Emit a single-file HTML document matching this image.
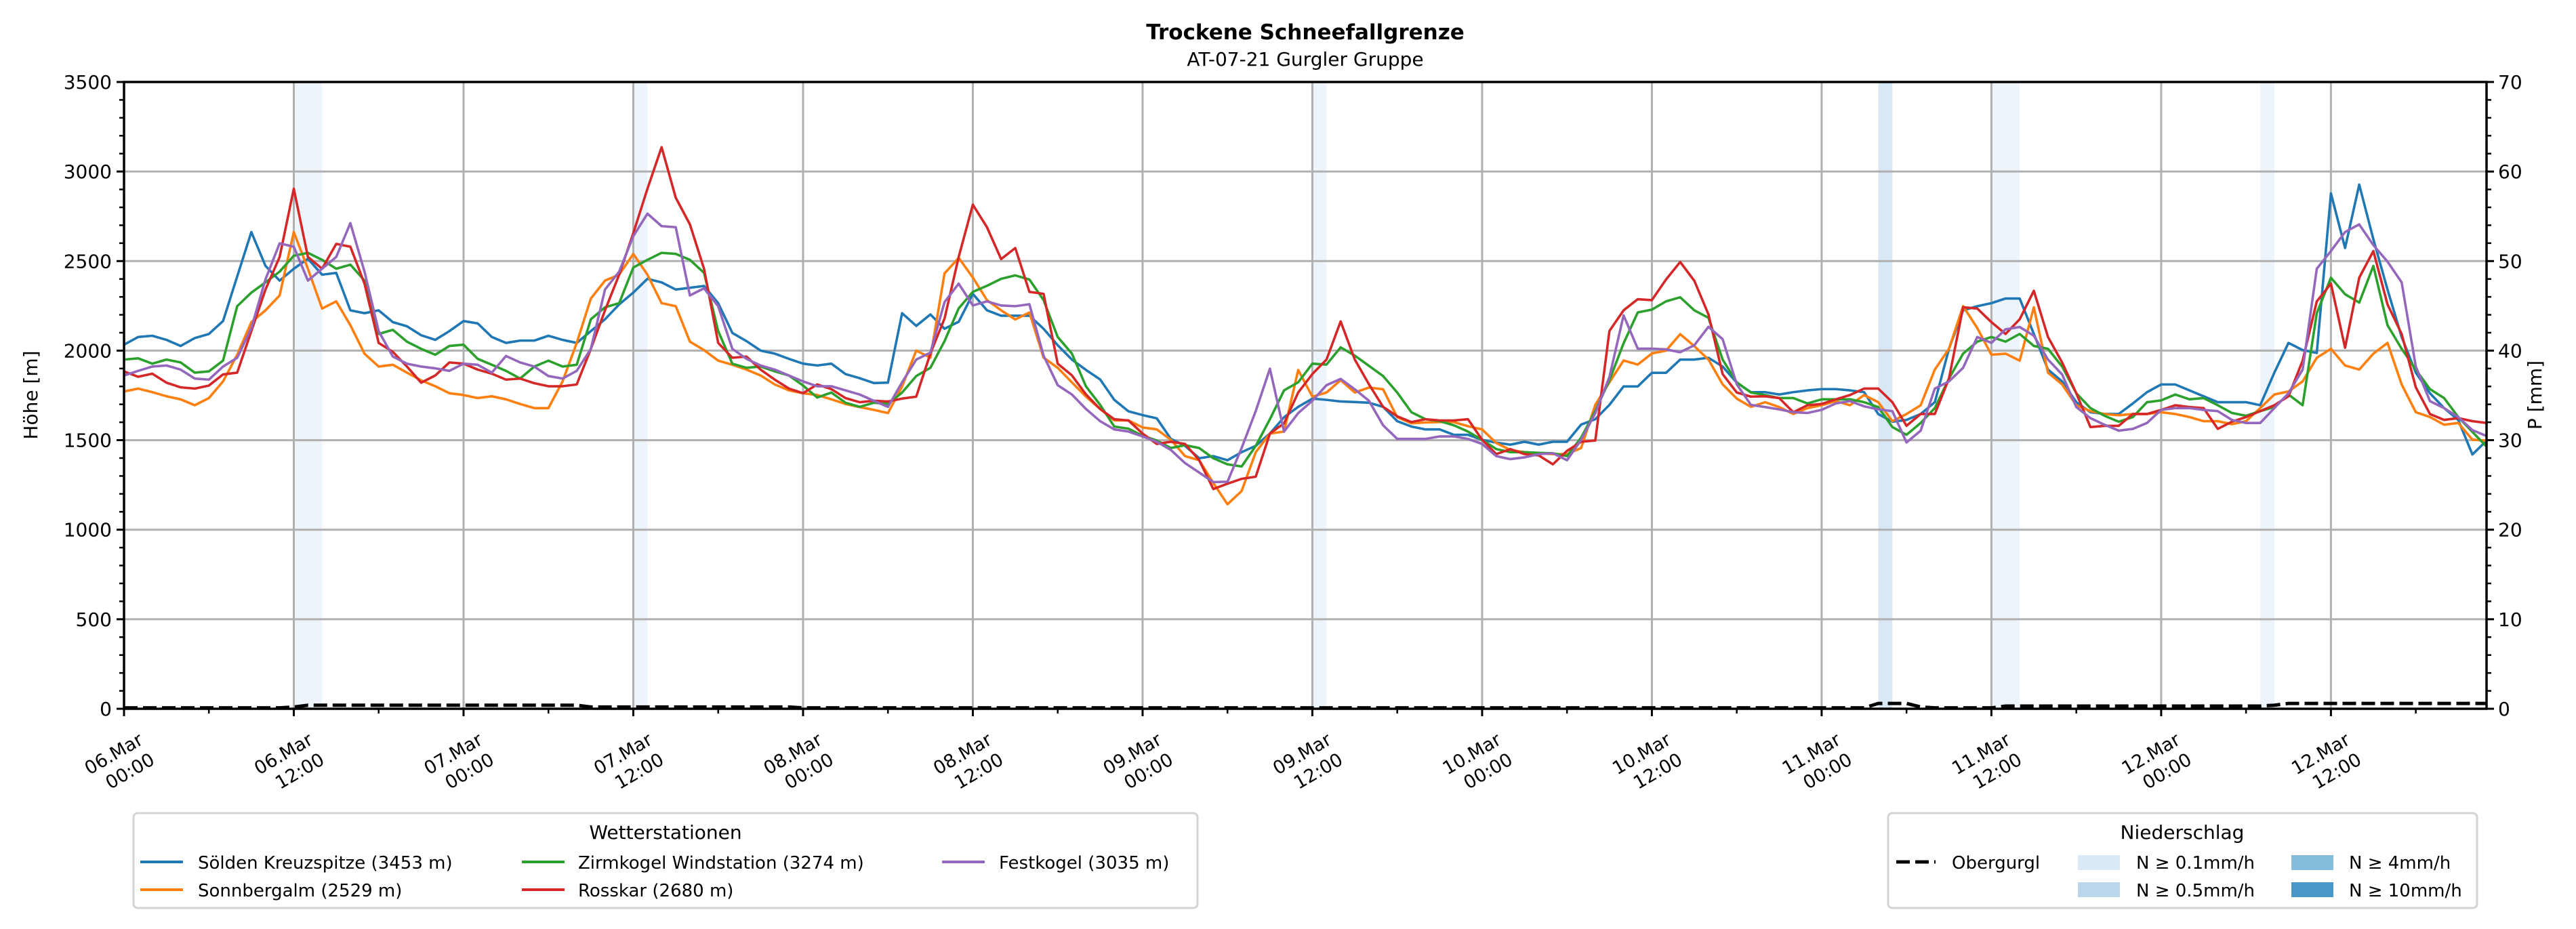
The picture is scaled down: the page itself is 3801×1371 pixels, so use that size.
<!DOCTYPE html>
<html><head><meta charset="utf-8">
<style>
html,body{margin:0;padding:0;background:#fff;}
svg{display:block;font-family:"DejaVu Sans","Liberation Sans",sans-serif;}
</style></head>
<body>
<svg id="chart" width="3801" height="1371" viewBox="0 0 3801 1371" xmlns="http://www.w3.org/2000/svg">
<rect width="3801" height="1371" fill="#fff"/>
<text x="1926" y="58" text-anchor="middle" font-size="31" font-weight="bold">Trockene Schneefallgrenze</text>
<text x="1926" y="97" text-anchor="middle" font-size="28">AT-07-21 Gurgler Gruppe</text>
<g id="bands"></g>
<g id="grid"></g>
<g id="series" clip-path="url(#clip)"></g>
<defs><clipPath id="clip"><rect x="183" y="121" width="3486" height="925"/></clipPath></defs>
<g id="axes"></g>
<text transform="translate(55,583) rotate(-90)" text-anchor="middle" font-size="28">Höhe [m]</text>
<text transform="translate(3750,583) rotate(-90)" text-anchor="middle" font-size="28">P [mm]</text>

<g>
<rect x="197" y="1200" width="1570" height="140" rx="6" fill="#fff" stroke="#d4d4d4" stroke-width="3"/>
<text x="982" y="1238" text-anchor="middle" font-size="28">Wetterstationen</text>
<g><line x1="207" y1="1272" x2="270" y2="1272" stroke="#1f77b4" stroke-width="4"/><text x="292" y="1282" font-size="26">Sölden Kreuzspitze (3453 m)</text></g>
<g><line x1="207" y1="1313" x2="270" y2="1313" stroke="#ff7f0e" stroke-width="4"/><text x="292" y="1323" font-size="26">Sonnbergalm (2529 m)</text></g>
<g><line x1="770" y1="1272" x2="833" y2="1272" stroke="#2ca02c" stroke-width="4"/><text x="853" y="1282" font-size="26">Zirmkogel Windstation (3274 m)</text></g>
<g><line x1="770" y1="1313" x2="833" y2="1313" stroke="#d62728" stroke-width="4"/><text x="853" y="1323" font-size="26">Rosskar (2680 m)</text></g>
<g><line x1="1390" y1="1272" x2="1453" y2="1272" stroke="#9467bd" stroke-width="4"/><text x="1474" y="1282" font-size="26">Festkogel (3035 m)</text></g>
</g>

<g>
<rect x="2786" y="1200" width="869" height="140" rx="6" fill="#fff" stroke="#d4d4d4" stroke-width="3"/>
<text x="3220" y="1238" text-anchor="middle" font-size="28">Niederschlag</text>
<g><line x1="2798" y1="1272" x2="2856" y2="1272" stroke="#000" stroke-width="5" stroke-dasharray="20,8"/><text x="2880" y="1282" font-size="26">Obergurgl</text></g>
<g><rect x="3066" y="1262" width="62" height="22" fill="#dbe9f6"/><text x="3152" y="1282" font-size="26">N ≥ 0.1mm/h</text></g>
<g><rect x="3066" y="1302" width="62" height="22" fill="#bad6eb"/><text x="3152" y="1323" font-size="26">N ≥ 0.5mm/h</text></g>
<g><rect x="3381" y="1262" width="62" height="22" fill="#84bcdb"/><text x="3466" y="1282" font-size="26">N ≥ 4mm/h</text></g>
<g><rect x="3381" y="1302" width="62" height="22" fill="#4a98c9"/><text x="3466" y="1323" font-size="26">N ≥ 10mm/h</text></g>
</g>
</svg>
<script>
const hours=[];for(let i=0;i<168;i++)hours.push(i);
const soelden=[2033,2076,2083,2060,2026,2070,2093,2165,2414,2662,2473,2391,2457,2513,2424,2434,2225,2209,2225,2159,2136,2086,2060,2109,2165,2152,2076,2043,2056,2056,2083,2060,2043,2109,2175,2258,2324,2401,2381,2341,2351,2361,2265,2099,2053,2000,1983,1954,1927,1917,1927,1869,1846,1819,1821,2209,2138,2202,2122,2161,2317,2225,2195,2195,2195,2122,2030,1950,1892,1839,1725,1661,1640,1622,1507,1468,1399,1411,1388,1433,1468,1537,1628,1686,1732,1725,1716,1713,1709,1686,1606,1576,1560,1560,1530,1530,1502,1486,1475,1491,1475,1491,1491,1587,1617,1697,1800,1800,1876,1876,1950,1950,1960,1911,1821,1768,1768,1755,1768,1778,1785,1785,1778,1768,1646,1603,1613,1646,1712,2010,2225,2248,2265,2291,2291,2093,1894,1828,1712,1656,1646,1646,1705,1768,1811,1811,1778,1745,1712,1712,1712,1695,1877,2043,2003,1987,2878,2573,2927,2622,2341,2076,1877,1762,1679,1613,1420,1497];
const sonnbergalm=[1772,1788,1768,1745,1728,1695,1735,1828,1977,2159,2225,2308,2662,2457,2235,2275,2142,1983,1911,1921,1877,1834,1801,1762,1752,1735,1745,1728,1702,1679,1679,1828,2043,2291,2391,2424,2540,2424,2265,2248,2050,2003,1944,1921,1894,1861,1811,1778,1762,1752,1728,1702,1685,1669,1651,1800,2000,1961,2431,2518,2408,2282,2225,2174,2213,1961,1904,1823,1743,1674,1610,1610,1571,1560,1502,1411,1388,1261,1142,1216,1433,1537,1548,1892,1743,1766,1835,1766,1794,1784,1628,1594,1599,1601,1601,1578,1560,1484,1445,1433,1427,1422,1422,1456,1697,1823,1945,1922,1984,2000,2092,2025,1950,1812,1732,1686,1712,1685,1646,1679,1695,1718,1695,1752,1712,1606,1646,1695,1894,2010,2248,2126,1977,1983,1944,2242,1877,1811,1695,1662,1646,1639,1646,1646,1656,1646,1629,1606,1606,1589,1606,1679,1755,1772,1828,1960,2010,1917,1894,1983,2043,1811,1656,1629,1586,1596,1503,1497];
const zirmkogel=[1950,1957,1927,1950,1934,1877,1884,1944,2248,2324,2381,2441,2530,2546,2507,2457,2480,2391,2093,2116,2050,2010,1977,2026,2033,1954,1921,1887,1844,1911,1944,1911,1921,2175,2242,2265,2464,2507,2546,2540,2507,2434,2109,1927,1904,1911,1884,1861,1805,1738,1766,1709,1686,1709,1702,1766,1858,1904,2053,2236,2328,2362,2401,2420,2397,2282,2076,1984,1800,1697,1576,1564,1525,1498,1456,1472,1456,1399,1365,1353,1468,1617,1778,1823,1927,1922,2018,1972,1915,1858,1766,1656,1617,1606,1583,1548,1502,1450,1433,1433,1429,1427,1411,1514,1663,1835,2041,2213,2229,2275,2298,2225,2183,1950,1823,1766,1752,1735,1735,1705,1728,1728,1728,1712,1685,1573,1530,1596,1679,1844,1983,2050,2076,2050,2093,2026,2010,1911,1762,1679,1636,1603,1629,1712,1722,1755,1728,1735,1695,1652,1636,1662,1685,1755,1695,2209,2407,2315,2268,2473,2142,2010,1894,1785,1735,1629,1546,1464];
const rosskar=[1884,1854,1871,1821,1795,1788,1805,1867,1877,2109,2341,2523,2904,2523,2457,2596,2580,2374,2043,1993,1911,1821,1861,1934,1927,1894,1871,1838,1844,1818,1801,1801,1811,2010,2225,2424,2656,2904,3136,2854,2705,2457,2043,1960,1967,1894,1838,1788,1762,1811,1785,1735,1712,1720,1716,1732,1743,1984,2179,2523,2815,2689,2511,2573,2328,2317,1927,1862,1755,1674,1617,1610,1537,1479,1491,1479,1388,1227,1257,1284,1296,1537,1594,1766,1869,1950,2163,1950,1812,1686,1633,1601,1617,1610,1610,1617,1502,1422,1450,1422,1415,1365,1440,1491,1498,2110,2225,2287,2282,2397,2495,2390,2202,1869,1766,1743,1745,1735,1656,1695,1702,1728,1752,1788,1788,1712,1580,1646,1646,1844,2242,2235,2159,2093,2175,2334,2076,1934,1762,1573,1580,1580,1646,1646,1669,1695,1685,1679,1563,1603,1629,1662,1695,1745,1944,2275,2374,2016,2407,2556,2258,2093,1795,1646,1613,1623,1606,1596];
const festkogel=[1861,1887,1911,1917,1894,1844,1838,1911,1960,2126,2398,2599,2580,2391,2457,2523,2712,2441,2109,1967,1927,1911,1901,1887,1927,1921,1877,1970,1934,1911,1858,1844,1887,2010,2341,2441,2639,2765,2695,2689,2308,2348,2248,2010,1954,1917,1894,1861,1828,1801,1801,1778,1755,1720,1686,1823,1950,1989,2271,2374,2252,2275,2252,2248,2259,1972,1807,1755,1674,1606,1560,1548,1521,1491,1445,1372,1319,1266,1268,1456,1663,1899,1548,1651,1720,1807,1842,1784,1720,1583,1507,1507,1507,1521,1521,1507,1479,1411,1394,1404,1422,1427,1388,1502,1651,1853,2197,2011,2011,2007,1991,2030,2133,2064,1812,1697,1685,1672,1656,1652,1669,1705,1718,1689,1672,1662,1487,1553,1788,1828,1904,2076,2043,2119,2132,2083,1950,1867,1685,1623,1586,1553,1563,1596,1669,1679,1679,1669,1662,1613,1596,1596,1679,1762,1894,2457,2556,2662,2705,2589,2497,2381,1911,1718,1679,1629,1556,1523];
const obergurglP=[0.1,0.1,0.1,0.1,0.1,0.1,0.1,0.1,0.1,0.1,0.1,0.1,0.2,0.4,0.4,0.4,0.4,0.4,0.4,0.4,0.4,0.4,0.4,0.4,0.4,0.4,0.4,0.4,0.4,0.4,0.4,0.4,0.4,0.2,0.2,0.2,0.2,0.2,0.2,0.2,0.2,0.2,0.2,0.2,0.2,0.2,0.2,0.2,0.1,0.1,0.1,0.1,0.1,0.1,0.1,0.1,0.1,0.1,0.1,0.1,0.1,0.1,0.1,0.1,0.1,0.1,0.1,0.1,0.1,0.1,0.1,0.1,0.1,0.1,0.1,0.1,0.1,0.1,0.1,0.1,0.1,0.1,0.1,0.1,0.1,0.1,0.1,0.1,0.1,0.1,0.1,0.1,0.1,0.1,0.1,0.1,0.1,0.1,0.1,0.1,0.1,0.1,0.1,0.1,0.1,0.1,0.1,0.1,0.1,0.1,0.1,0.1,0.1,0.1,0.1,0.1,0.1,0.1,0.1,0.1,0.1,0.1,0.1,0.1,0.6,0.6,0.6,0.2,0.1,0.1,0.1,0.1,0.1,0.3,0.3,0.3,0.3,0.3,0.3,0.3,0.3,0.3,0.3,0.3,0.3,0.3,0.3,0.3,0.3,0.3,0.3,0.3,0.4,0.6,0.6,0.6,0.6,0.6,0.6,0.6,0.6,0.6,0.6,0.6,0.6,0.6,0.6,0.6];
const bandStarts=[12,36,84,124,132,151];
const bandEnds=[14,37,85,125,134,152];
const bandLevels=[0,0,0,1,0,0];
const yTicks=[0,500,1000,1500,2000,2500,3000,3500];
const y2Ticks=[0,10,20,30,40,50,60,70];
const xTickHours=[0,12,24,36,48,60,72,84,96,108,120,132,144,156];
const xTickDates=["06.Mar","06.Mar","07.Mar","07.Mar","08.Mar","08.Mar","09.Mar","09.Mar","10.Mar","10.Mar","11.Mar","11.Mar","12.Mar","12.Mar"];
const xTickTimes=["00:00","12:00","00:00","12:00","00:00","12:00","00:00","12:00","00:00","12:00","00:00","12:00","00:00","12:00"];

const NS='http://www.w3.org/2000/svg';
const L=183,R=3669,T=121,B=1046;
const xS=h=>L+(h/167)*(R-L);
const yS=v=>B-(v/3500)*(B-T);
const y2S=v=>B-(v/70)*(B-T);
function mk(tag,attrs,parent){const e=document.createElementNS(NS,tag);for(const k in attrs)e.setAttribute(k,attrs[k]);parent.appendChild(e);return e;}
const bands=document.getElementById('bands'),grid=document.getElementById('grid'),series=document.getElementById('series'),axes=document.getElementById('axes');
const bandColors=['#eef4fb','#d9e8f5'];
bandStarts.forEach((s,i)=>{
  const r=mk('rect',{x:xS(s),y:T,width:xS(bandEnds[i])-xS(s),height:B-T,fill:bandColors[bandLevels[i]]},bands);
  
  
});
yTicks.forEach(v=>{
  const g=mk('line',{x1:L,x2:R,y1:yS(v),y2:yS(v),stroke:'#b0b0b0','stroke-width':3},grid);
  
  
});
xTickHours.forEach(h=>{
  const g=mk('line',{x1:xS(h),x2:xS(h),y1:T,y2:B,stroke:'#b0b0b0','stroke-width':3},grid);
  
  
});
const seriesList=[[soelden,'#1f77b4','line-soelden'],[sonnbergalm,'#ff7f0e','line-sonnbergalm'],[zirmkogel,'#2ca02c','line-zirmkogel'],[rosskar,'#d62728','line-rosskar'],[festkogel,'#9467bd','line-festkogel']];
seriesList.forEach(([d,c,n])=>{
  const p=mk('polyline',{points:d.map((v,i)=>xS(hours[i])+','+yS(v)).join(' '),fill:'none',stroke:c,'stroke-width':3.6,'stroke-linejoin':'round'},series);
  
  
});
const pl=mk('polyline',{points:obergurglP.map((v,i)=>xS(hours[i])+','+y2S(v)).join(' '),fill:'none',stroke:'#000','stroke-width':5,'stroke-dasharray':'20,8'},series);


mk('rect',{x:L,y:T,width:R-L,height:B-T,fill:'none',stroke:'#000','stroke-width':3.5},axes);
for(let v=0;v<=3500;v+=100){const big=v%500===0;mk('line',{x1:L,x2:L-(big?11:7),y1:yS(v),y2:yS(v),stroke:'#000','stroke-width':big?3:2.5},axes);}
yTicks.forEach(v=>{
  const t=mk('text',{x:L-18,y:yS(v)+10,'text-anchor':'end','font-size':28},axes);t.textContent=v;
  
  
});
for(let v=0;v<=70;v+=2){const big=v%10===0;mk('line',{x1:R,x2:R+(big?11:7),y1:y2S(v),y2:y2S(v),stroke:'#000','stroke-width':big?3:2.5},axes);}
y2Ticks.forEach(v=>{
  const t=mk('text',{x:R+17,y:y2S(v)+10,'font-size':28},axes);t.textContent=v;
  
  
});
for(let h=0;h<=167;h+=6){const big=h%12===0;mk('line',{x1:xS(h),x2:xS(h),y1:B,y2:B+(big?11:7),stroke:'#000','stroke-width':big?3:2.5},axes);}
xTickHours.forEach((h,i)=>{
  const t=mk('text',{transform:`translate(${xS(h)+30},1097) rotate(-30)`,'text-anchor':'end','font-size':27},axes);
  
  
  const a=mk('tspan',{x:0,y:0},t);a.textContent=xTickDates[i];
  const b=mk('tspan',{x:0,y:34},t);b.textContent=xTickTimes[i];
});
</script>
</body></html>
